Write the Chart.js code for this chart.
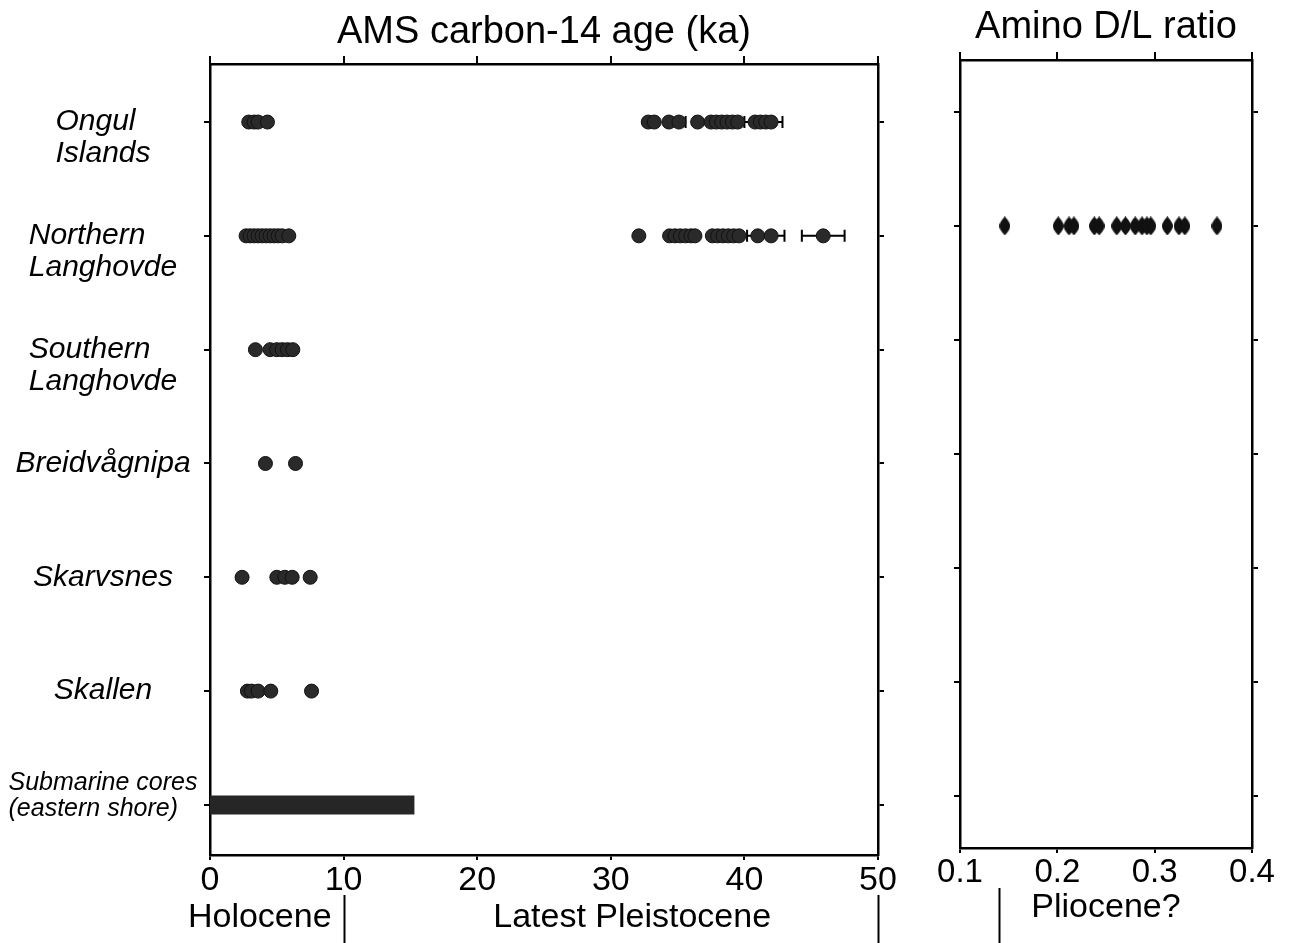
<!DOCTYPE html>
<html>
<head>
<meta charset="utf-8">
<script src="https://cdn.jsdelivr.net/npm/chart.js@4.4.1/dist/chart.umd.min.js"></script>
<style>
  html, body { margin: 0; padding: 0; background: #fff; }
  #wrap { position: relative; width: 1292px; height: 943px; }
  #ageChart { position: absolute; left: 0; top: 0; }
  #aminoChart { position: absolute; left: 930px; top: 0; }
</style>
</head>
<body>
<div id="wrap">
  <canvas id="ageChart" width="930" height="943"></canvas>
  <canvas id="aminoChart" width="362" height="943"></canvas>
</div>
<script>
// sites, top to bottom
const sites = [
  ["Ongul", "Islands"],
  ["Northern", "Langhovde"],
  ["Southern", "Langhovde"],
  ["Breidvågnipa"],
  ["Skarvsnes"],
  ["Skallen"],
  ["Submarine cores", "(eastern shore)"]
];

// AMS 14C ages (ka)
const ongulAges = [2.9, 3.3, 3.6, 4.3, 32.8, 33.25, 34.35, 35.1, 36.5, 37.5, 37.9, 38.3, 38.7, 39.1, 39.5, 40.8, 41.2, 41.6, 42.0];
const northernAges = [2.7, 3.0, 3.3, 3.6, 3.9, 4.2, 4.5, 4.8, 5.1, 5.4, 5.9, 32.1, 34.4, 34.8, 35.2, 35.6, 36.0, 36.3, 37.6, 38.0, 38.4, 38.8, 39.2, 39.6, 41.0, 42.0, 45.9];
const southernAges = [3.4, 4.5, 5.0, 5.4, 5.8, 6.2];
const breidAges = [4.15, 6.4];
const skarvsnesAges = [2.4, 5.0, 5.6, 6.15, 7.5];
const skallenAges = [2.8, 3.1, 3.6, 4.55, 7.6];
const submarineRange = [0, 15.3];

// error bars (row index, age, +/- ka)
const errRows = [0, 0, 0, 1, 1, 1];
const errAges = [35.1, 40.8, 42.0, 41.0, 42.0, 45.9];
const errSizes = [0.5, 0.8, 0.85, 0.8, 1.0, 1.6];

// amino acid D/L ratios (Northern Langhovde)
const aminoRow = 1;
const aminoRatios = [0.146, 0.201, 0.212, 0.217, 0.238, 0.243, 0.261, 0.270, 0.280, 0.287, 0.292, 0.296, 0.313, 0.325, 0.331, 0.364];

// period boundaries under the axes
const ageBounds = [10, 50];
const aminoBounds = [0.14];

const FONT = "'Liberation Sans', Arial, Helvetica, sans-serif";
Chart.defaults.font.family = FONT;
Chart.defaults.color = '#000';

const siteAges = [ongulAges, northernAges, southernAges, breidAges, skarvsnesAges, skallenAges];

function rowAxis(position, min, max, width) {
  return {
    type: 'linear', position: position, min: min, max: max, reverse: true,
    afterBuildTicks: s => { s.ticks = sites.map((_, i) => ({ value: i })); },
    ticks: { callback: () => '' },
    grid: { drawOnChartArea: false, tickLength: 6, color: '#000', lineWidth: 2 },
    border: { color: '#000', width: 2.5 },
    afterFit: s => { s.width = width; }
  };
}

function valueAxis(position, min, max, step, height, opts) {
  const a = {
    type: 'linear', position: position, min: min, max: max,
    ticks: { stepSize: step, callback: () => '' },
    grid: { drawOnChartArea: false, tickLength: 5, color: '#000', lineWidth: 2 },
    border: { color: '#000', width: 2.5 },
    afterFit: s => { s.height = height; }
  };
  return Object.assign(a, opts || {});
}

const labelPlugin = {
  id: 'siteLabels',
  afterDraw(chart) {
    const ctx = chart.ctx;
    const y = chart.scales.y;
    ctx.save();
    ctx.fillStyle = '#000';
    ctx.textAlign = 'left';
    ctx.textBaseline = 'middle';
    sites.forEach((lines, i) => {
      const last = i === sites.length - 1;
      const size = last ? 25 : 30;
      const lh = last ? 26 : 32;
      ctx.font = 'italic ' + size + 'px ' + FONT;
      const w = Math.max(...lines.map(l => ctx.measureText(l).width));
      const x0 = 103 - w / 2;
      const py = y.getPixelForValue(i);
      const y0 = last ? py - 22 : py;
      lines.forEach((l, k) => ctx.fillText(l, x0, y0 + k * lh));
    });
    ctx.restore();
  }
};

const errPlugin = {
  id: 'errBars',
  beforeDatasetsDraw(chart) {
    const ctx = chart.ctx;
    const x = chart.scales.x, y = chart.scales.y;
    ctx.save();
    ctx.strokeStyle = '#000';
    ctx.lineWidth = 2;
    errAges.forEach((a, i) => {
      const py = y.getPixelForValue(errRows[i]);
      const x1 = x.getPixelForValue(a - errSizes[i]);
      const x2 = x.getPixelForValue(a + errSizes[i]);
      ctx.beginPath();
      ctx.moveTo(x1, py); ctx.lineTo(x2, py);
      ctx.moveTo(x1, py - 6); ctx.lineTo(x1, py + 6);
      ctx.moveTo(x2, py - 6); ctx.lineTo(x2, py + 6);
      ctx.stroke();
    });
    ctx.restore();
  }
};

function periodPlugin(bounds, labels, textDy) {
  return {
    id: 'periods',
    afterDraw(chart) {
      const ctx = chart.ctx;
      const x = chart.scales.x;
      const bottom = chart.chartArea.bottom;
      ctx.save();
      ctx.strokeStyle = '#000';
      ctx.lineWidth = 2;
      bounds.forEach(b => {
        const px = Math.round(x.getPixelForValue(b)) + 0.5;
        ctx.beginPath();
        ctx.moveTo(px, bottom + 40);
        ctx.lineTo(px, chart.height);
        ctx.stroke();
      });
      ctx.fillStyle = '#000';
      ctx.font = '34px ' + FONT;
      ctx.textBaseline = 'middle';
      labels.forEach(l => {
        ctx.textAlign = l.align;
        ctx.fillText(l.text, x.getPixelForValue(l.at) + (l.dx || 0), bottom + textDy);
      });
      ctx.restore();
    }
  };
}

const dot = { pointRadius: 7, pointHoverRadius: 7, pointBackgroundColor: '#2a2a2a', pointBorderColor: '#111', pointBorderWidth: 1 };

const ageDatasets = siteAges.map((ages, i) => Object.assign({
  label: sites[i].join(' '),
  data: ages.map(a => ({ x: a, y: i }))
}, dot));
ageDatasets.push({
  type: 'line',
  label: sites[6].join(' '),
  data: submarineRange.map(a => ({ x: a, y: 6 })),
  showLine: true,
  borderColor: '#262626',
  borderWidth: 19,
  borderCapStyle: 'butt',
  pointRadius: 0
});

new Chart(document.getElementById('ageChart'), {
  type: 'scatter',
  data: { datasets: ageDatasets },
  options: {
    responsive: false, animation: false,
    plugins: { legend: { display: false }, tooltip: { enabled: false } },
    scales: {
      x: valueAxis('bottom', 0, 50, 10, 88, {
        ticks: { stepSize: 10, padding: 0, font: { size: 34 }, color: '#000' }
      }),
      x2: valueAxis('top', 0, 50, 10, 64, {
        grid: { drawOnChartArea: false, tickLength: 8, color: '#000', lineWidth: 2 },
        title: { display: true, text: 'AMS carbon-14 age (ka)', font: { size: 38 }, color: '#000', padding: { top: 10, bottom: 0 } }
      }),
      y: rowAxis('left', -0.51, 6.44, 210),
      y2: rowAxis('right', -0.51, 6.44, 52)
    }
  },
  plugins: [labelPlugin, errPlugin, periodPlugin(ageBounds, [
    { text: 'Holocene', at: 10, align: 'right', dx: -12 },
    { text: 'Latest Pleistocene', at: 31.6, align: 'center' }
  ], 63)]
});

// vertical diamond marker for amino ratios
const diamond = document.createElement('canvas');
diamond.width = 11; diamond.height = 19;
(function () {
  const c = diamond.getContext('2d');
  c.fillStyle = '#111';
  c.beginPath();
  c.moveTo(5.5, 0);
  c.quadraticCurveTo(11, 6, 11, 9.5);
  c.quadraticCurveTo(11, 13, 5.5, 19);
  c.quadraticCurveTo(0, 13, 0, 9.5);
  c.quadraticCurveTo(0, 6, 5.5, 0);
  c.fill();
})();

new Chart(document.getElementById('aminoChart'), {
  type: 'scatter',
  data: {
    datasets: [{
      label: 'D/L',
      data: aminoRatios.map(r => ({ x: r, y: aminoRow })),
      pointStyle: diamond
    }]
  },
  options: {
    responsive: false, animation: false,
    plugins: { legend: { display: false }, tooltip: { enabled: false } },
    scales: {
      x: valueAxis('bottom', 0.1, 0.4, 0.1, 95, {
        ticks: { stepSize: 0.1, padding: 0, font: { size: 33 }, color: '#000', callback: v => v.toFixed(1) }
      }),
      x2: valueAxis('top', 0.1, 0.4, 0.1, 60, {
        grid: { drawOnChartArea: false, tickLength: 8, color: '#000', lineWidth: 2 },
        title: { display: true, text: 'Amino D/L ratio', font: { size: 38 }, color: '#000', padding: { top: 5, bottom: 0 } }
      }),
      y: rowAxis('left', -0.456, 6.456, 30),
      y2: rowAxis('right', -0.456, 6.456, 40)
    }
  },
  plugins: [periodPlugin(aminoBounds, [
    { text: 'Pliocene?', at: 0.25, align: 'center' }
  ], 60)]
});
</script>
</body>
</html>
